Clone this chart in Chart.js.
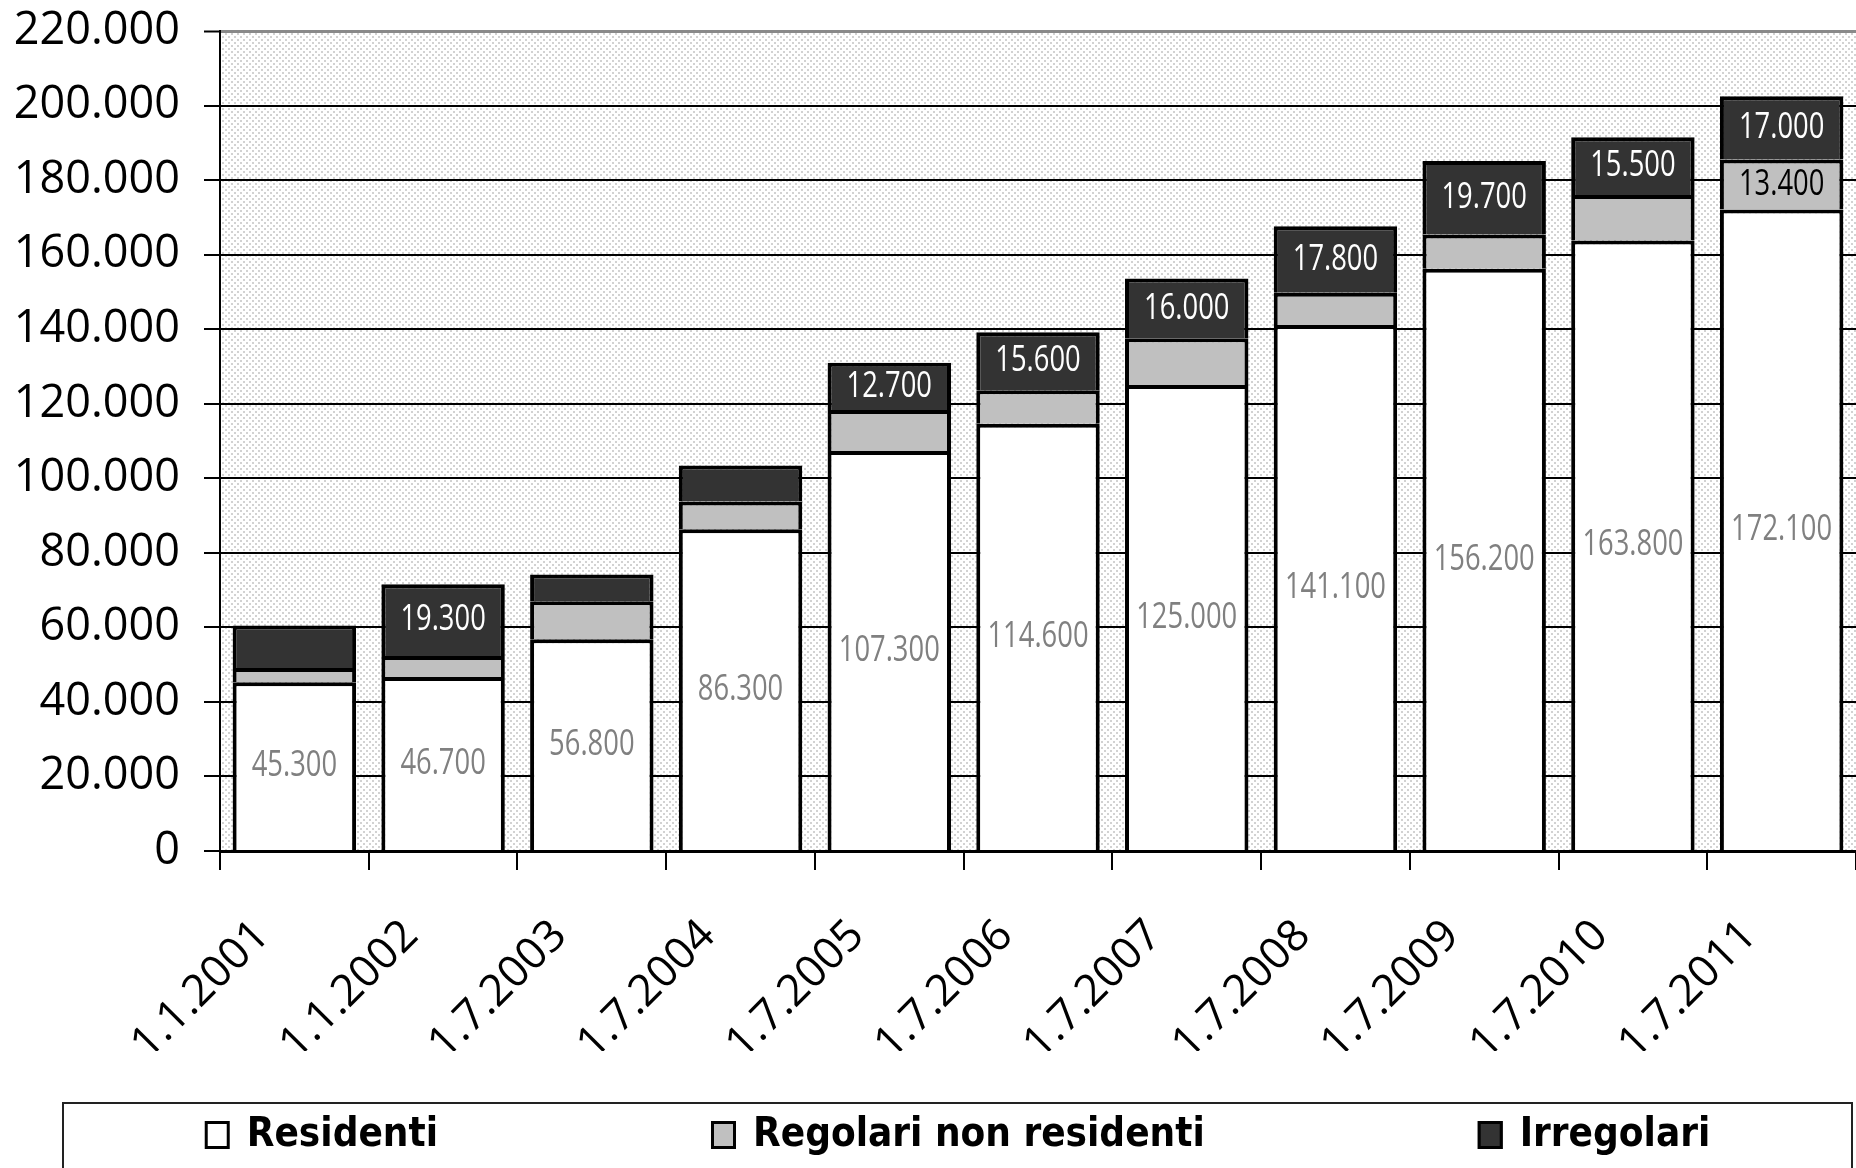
<!DOCTYPE html>
<html>
<head>
<meta charset="utf-8">
<title>Residenti, regolari non residenti e irregolari</title>
<script src="https://cdn.jsdelivr.net/npm/chart.js@4.4.1/dist/chart.umd.min.js"></script>
<style>
  html, body { margin: 0; padding: 0; background: #ffffff; }
  canvas { display: block; }
</style>
</head>
<body>
<canvas id="chart" width="1856" height="1168"></canvas>
<script>
// Survey dates (x categories)
const categories = ['1.1.2001', '1.1.2002', '1.7.2003', '1.7.2004', '1.7.2005', '1.7.2006',
                    '1.7.2007', '1.7.2008', '1.7.2009', '1.7.2010', '1.7.2011'];

// Stacked series, bottom to top
const residenti            = [45300, 46700, 56800, 86300, 107300, 114600, 125000, 141100, 156200, 163800, 172100];
const regolariNonResidenti = [3800, 5600, 10200, 7500, 11000, 9000, 12600, 8700, 9200, 12200, 13400];
const irregolari           = [11400, 19300, 7200, 9600, 12700, 15600, 16000, 17800, 19700, 15500, 17000];

// Which segments carry a value label
const labelResidenti  = [true, true, true, true, true, true, true, true, true, true, true];
const labelRegolari   = [false, false, false, false, false, false, false, false, false, false, true];
const labelIrregolari = [false, true, false, false, true, true, true, true, true, true, true];

// Value axis
const yMin = 0;
const yMax = 220000;
const yStep = 20000;

const seriesNames = ['Residenti', 'Regolari non residenti', 'Irregolari'];

const fmt = n => String(n).replace(/\B(?=(\d{3})+(?!\d))/g, '.');

// Dotted fill for the plotting area
function makeDotPattern(ctx) {
  const tile = document.createElement('canvas');
  tile.width = 6; tile.height = 6;
  const t = tile.getContext('2d');
  t.fillStyle = '#ffffff';
  t.fillRect(0, 0, 6, 6);
  t.fillStyle = '#d2d2d2';
  t.fillRect(0, 0, 2, 2);
  t.fillRect(3, 3, 2, 2);
  return ctx.createPattern(tile, 'repeat');
}

const plotBackground = {
  id: 'plotBackground',
  beforeDraw(chart) {
    const { ctx, chartArea: a } = chart;
    ctx.save();
    ctx.fillStyle = '#ffffff';
    ctx.fillRect(0, 0, chart.width, chart.height);
    ctx.fillStyle = makeDotPattern(ctx);
    ctx.fillRect(a.left, a.top, a.right - a.left, a.bottom - a.top);
    ctx.restore();
  }
};

// Value labels centred in the stacked segments
const segmentLabels = {
  id: 'segmentLabels',
  afterDatasetsDraw(chart) {
    const { ctx } = chart;
    const flags = [labelResidenti, labelRegolari, labelIrregolari];
    const colors = ['#808080', '#000000', '#ffffff'];
    ctx.save();
    ctx.font = '36px "Open Sans", sans-serif';
    ctx.textAlign = 'center';
    ctx.textBaseline = 'middle';
    chart.data.datasets.forEach((ds, di) => {
      const meta = chart.getDatasetMeta(di);
      meta.data.forEach((bar, i) => {
        if (!flags[di][i]) return;
        const p = bar.getProps(['x', 'y', 'base'], true);
        const cy = (p.y + p.base) / 2;
        ctx.save();
        ctx.translate(p.x, cy);
        ctx.scale(0.76, 1);
        ctx.fillStyle = colors[di];
        ctx.fillText(fmt(ds.data[i]), 0, 0);
        ctx.restore();
      });
    });
    ctx.restore();
  }
};

// Boxed legend row below the axis labels
const boxedLegend = {
  id: 'boxedLegend',
  afterDraw(chart) {
    const { ctx } = chart;
    const boxLeft = 63, boxRight = 1852, boxTop = 1103;
    const rowY = 1135;
    const sw = 25, sh = 28, gapText = 17, gapItem = 273;
    const squeeze = 0.9;
    ctx.save();
    ctx.strokeStyle = '#222222';
    ctx.lineWidth = 2;
    ctx.strokeRect(boxLeft, boxTop, boxRight - boxLeft, 200);

    ctx.font = 'bold 40px "DejaVu Sans", sans-serif';
    ctx.textBaseline = 'middle';
    ctx.textAlign = 'left';
    const items = chart.data.datasets.map(ds => ({
      label: ds.label, fill: ds.backgroundColor, w: ctx.measureText(ds.label).width * squeeze
    }));
    const total = items.reduce((s, it) => s + sw + gapText + it.w, 0) + gapItem * (items.length - 1);
    let x = (boxLeft + boxRight) / 2 - total / 2;
    items.forEach(it => {
      ctx.fillStyle = it.fill;
      ctx.fillRect(x, rowY - sh / 2, sw, sh);
      ctx.lineWidth = 3;
      ctx.strokeStyle = '#000000';
      ctx.strokeRect(x + 1.5, rowY - sh / 2 + 1.5, sw - 3, sh - 3);
      ctx.save();
      ctx.translate(x + sw + gapText, rowY + 1);
      ctx.scale(squeeze, 1);
      ctx.fillStyle = '#000000';
      ctx.fillText(it.label, 0, 0);
      ctx.restore();
      x += sw + gapText + it.w + gapItem;
    });
    ctx.restore();
  }
};

const yTickValues = [];
for (let v = yMin; v <= yMax; v += yStep) yTickValues.push(v);

new Chart(document.getElementById('chart'), {
  type: 'bar',
  data: {
    labels: categories,
    datasets: [
      { label: seriesNames[0], data: residenti, backgroundColor: '#ffffff' },
      { label: seriesNames[1], data: regolariNonResidenti, backgroundColor: '#c0c0c0' },
      { label: seriesNames[2], data: irregolari, backgroundColor: '#333333' }
    ].map(d => Object.assign(d, {
      borderColor: '#000000',
      borderWidth: 4,
      borderSkipped: 'start',
      barPercentage: 0.83,
      categoryPercentage: 1.0
    }))
  },
  options: {
    responsive: false,
    animation: false,
    events: [],
    layout: { padding: { top: 31, right: -5, bottom: 117, left: 0 } },
    plugins: {
      legend: { display: false },
      tooltip: { enabled: false },
      title: { display: false }
    },
    scales: {
      x: {
        stacked: true,
        offset: true,
        afterFit(scale) {
          scale.height = 200;
          scale.paddingLeft = 0;
          scale.paddingRight = 0;
        },
        grid: {
          display: true,
          drawOnChartArea: false,
          drawTicks: true,
          tickLength: 19,
          color: '#000000',
          lineWidth: 2,
          offset: true
        },
        border: { display: true, color: '#000000', width: 3 },
        ticks: {
          color: '#000000',
          font: { family: '"Open Sans", sans-serif', size: 44 },
          minRotation: 45,
          maxRotation: 45,
          autoSkip: false,
          padding: 40,
          labelOffset: -32
        }
      },
      y: {
        stacked: true,
        min: yMin,
        max: yMax,
        afterFit(scale) {
          scale.width = 220;
          scale.paddingTop = 0;
          scale.paddingBottom = 0;
        },
        afterBuildTicks(scale) { scale.ticks = yTickValues.map(v => ({ value: v })); },
        grid: {
          color: ctx => (ctx.tick && ctx.tick.value === yMax ? '#8a8a8a' : '#000000'),
          lineWidth: ctx => (ctx.tick && ctx.tick.value === yMax ? 3 : 2),
          drawTicks: true,
          tickLength: 16,
          tickColor: '#000000',
          tickWidth: 2
        },
        border: { display: true, color: '#000000', width: 2 },
        ticks: {
          color: '#000000',
          font: { family: '"Open Sans", sans-serif', size: 45 },
          padding: 24,
          callback: v => fmt(v)
        }
      }
    }
  },
  plugins: [plotBackground, segmentLabels, boxedLegend]
});
</script>
</body>
</html>
